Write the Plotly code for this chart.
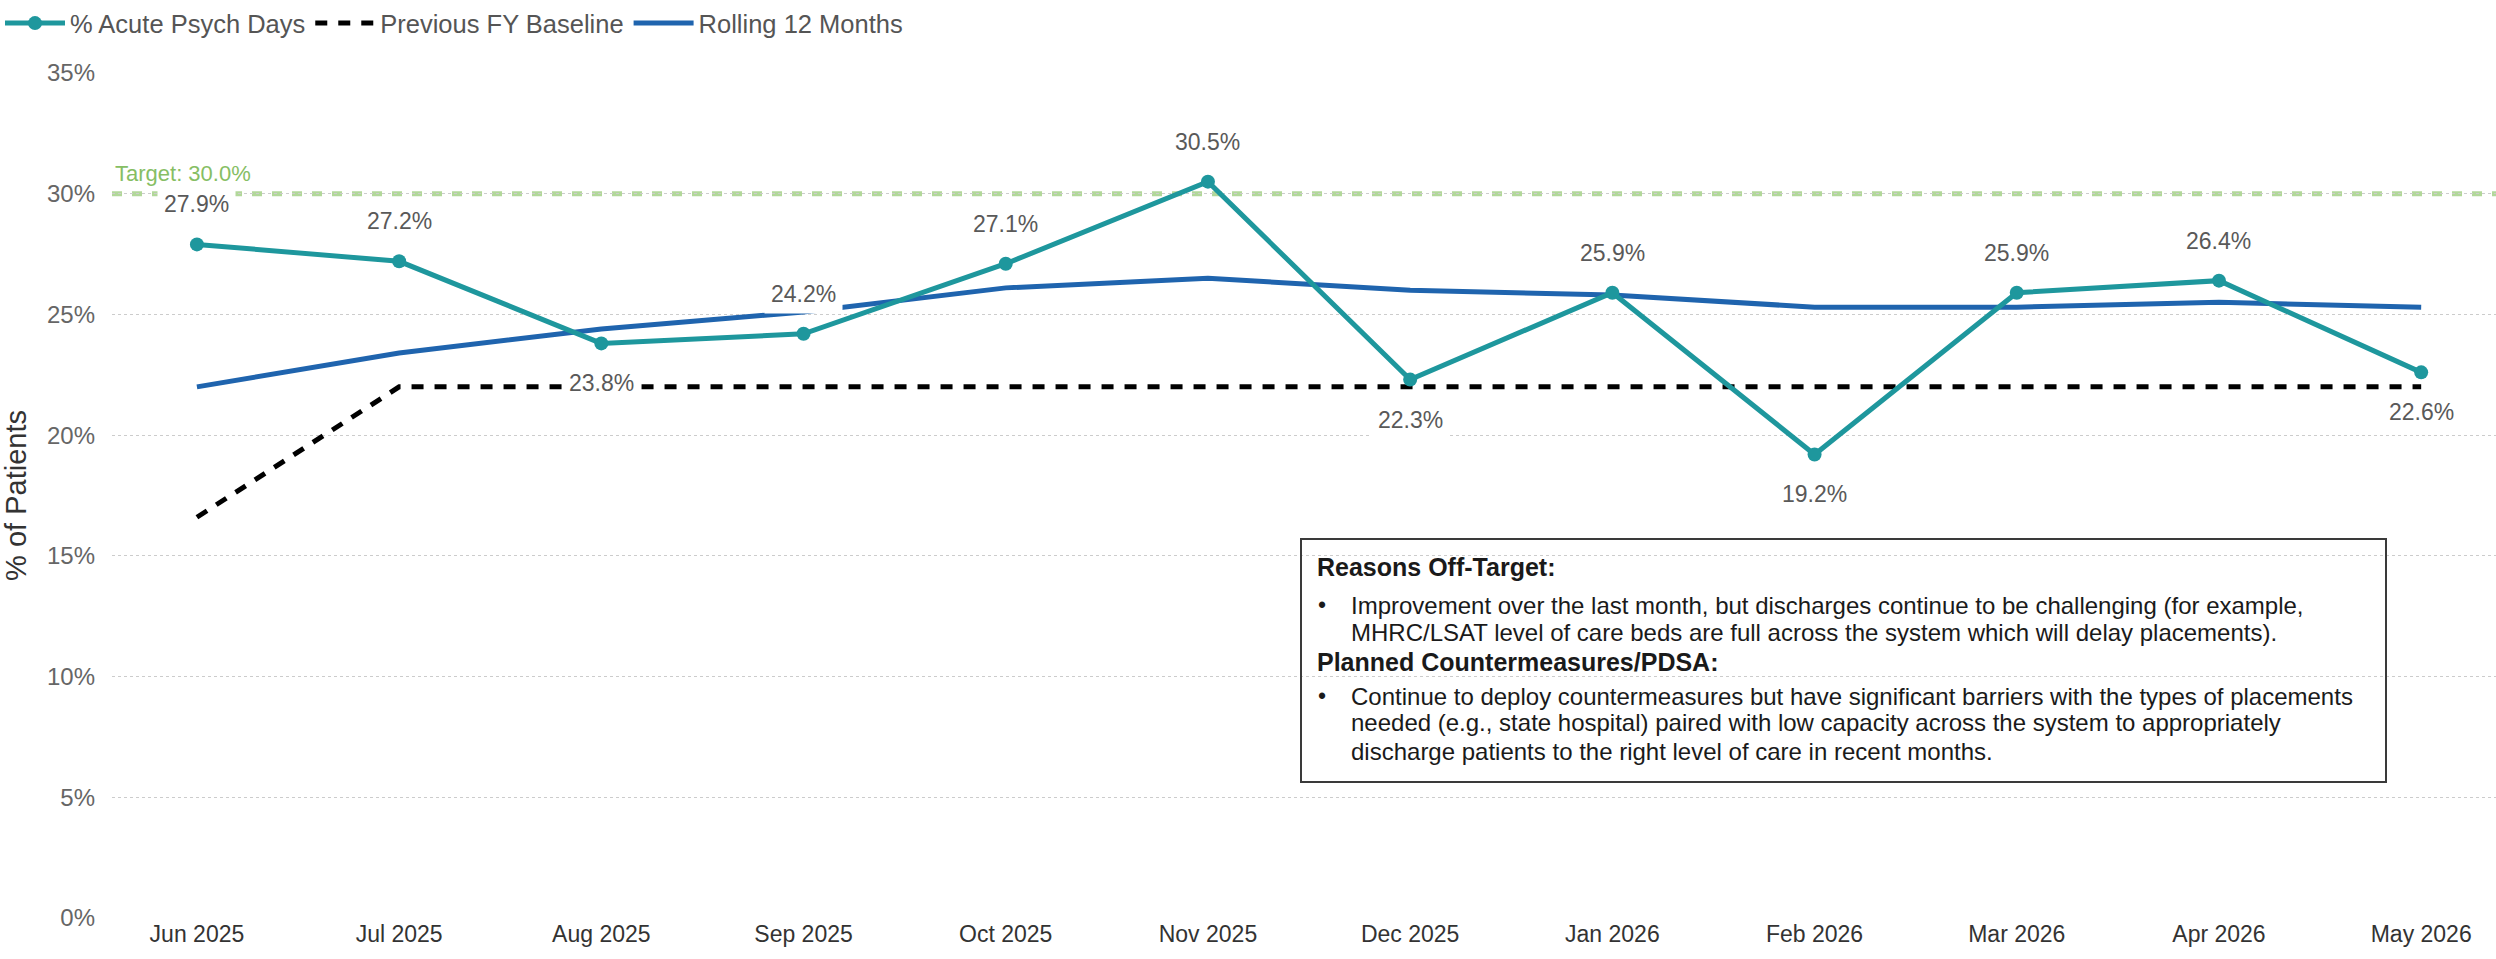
import plotly.graph_objects as go

# ---------------- data ----------------
MONTHS = ["Jun 2025", "Jul 2025", "Aug 2025", "Sep 2025", "Oct 2025", "Nov 2025",
          "Dec 2025", "Jan 2026", "Feb 2026", "Mar 2026", "Apr 2026", "May 2026"]
ACUTE_PSYCH = [27.9, 27.2, 23.8, 24.2, 27.1, 30.5, 22.3, 25.9, 19.2, 25.9, 26.4, 22.6]
PREV_FY_BASELINE = [16.6, 22.0, 22.0, 22.0, 22.0, 22.0, 22.0, 22.0, 22.0, 22.0, 22.0, 22.0]
ROLLING_12 = [22.0, 23.4, 24.4, 25.1, 26.1, 26.5, 26.0, 25.8, 25.3, 25.3, 25.5, 25.3]
LABEL_SIDE = ["above", "above", "below", "above", "above", "above",
              "below", "above", "below", "above", "above", "below"]
TARGET = 30.0
Y_TICKS = [0, 5, 10, 15, 20, 25, 30, 35]
Y_TICK_TEXT = ["0%", "5%", "10%", "15%", "20%", "25%", "30%", "35%"]

NOTE_LINES = [
    ("head", "Reasons Off-Target:"),
    ("bullet", "Improvement over the last month, but discharges continue to be challenging (for example,"),
    ("cont", "MHRC/LSAT level of care beds are full across the system which will delay placements)."),
    ("head", "Planned Countermeasures/PDSA:"),
    ("bullet", "Continue to deploy countermeasures but have significant barriers with the types of placements"),
    ("cont", "needed (e.g., state hospital) paired with low capacity across the system to appropriately"),
    ("cont", "discharge patients to the right level of care in recent months."),
]

# ---------------- style / layout ----------------
W, H = 2496, 959
PL, PR, PT, PB = 112, 2496, 73, 918
FONT = "Liberation Sans, Arial, sans-serif"
TEAL = "#1E979D"
BLUE = "#1F64AE"
GREEN_LINE = "#B2D89A"
GREEN_TEXT = "#86BE64"


def fx(px):
    return (px - PL) / (PR - PL)


def fy(py):
    return (PB - py) / (PB - PT)


fig = go.Figure()

fig.add_trace(go.Scatter(
    x=MONTHS, y=PREV_FY_BASELINE, name="Previous FY Baseline", mode="lines",
    line=dict(color="#000000", width=5, dash="12px,11px"), legendrank=2,
))
fig.add_trace(go.Scatter(
    x=MONTHS, y=ROLLING_12, name="Rolling 12 Months", mode="lines",
    line=dict(color=BLUE, width=5), legendrank=3,
))
fig.add_trace(go.Scatter(
    x=MONTHS, y=ACUTE_PSYCH, name="% Acute Psych Days", mode="lines+markers",
    line=dict(color=TEAL, width=5), marker=dict(size=14, color=TEAL), legendrank=1,
))

# target line
fig.add_shape(type="line", xref="paper", yref="y", x0=0, x1=1, y0=TARGET, y1=TARGET,
              line=dict(color=GREEN_LINE, width=5, dash="10px,10px"), layer="below")
fig.add_annotation(xref="paper", yref="y", x=0, y=TARGET, xanchor="left", yanchor="bottom",
                   xshift=1, yshift=6, text=f"Target: {TARGET:.1f}%", showarrow=False,
                   font=dict(family=FONT, size=22, color=GREEN_TEXT))

# data labels
for m, v, side in zip(MONTHS, ACUTE_PSYCH, LABEL_SIDE):
    fig.add_annotation(x=m, y=v, text=f"{v:.1f}%", showarrow=False,
                       yshift=40 if side == "above" else -40,
                       bgcolor="white", borderpad=6,
                       font=dict(family=FONT, size=23, color="#595959"))

# notes box
fig.add_shape(type="rect", xref="paper", yref="paper",
              x0=fx(1301), x1=fx(2386), y0=fy(782), y1=fy(539),
              line=dict(color="#3a3a3a", width=2), fillcolor="rgba(0,0,0,0)", layer="above")
line_y = [567, 605, 632, 662, 696, 723, 751]
for (kind, txt), py in zip(NOTE_LINES, line_y):
    if kind == "head":
        fig.add_annotation(xref="paper", yref="paper", x=fx(1315), y=fy(py), xanchor="left",
                           yanchor="middle", text=f"<b>{txt}</b>", showarrow=False,
                           font=dict(family=FONT, size=25, color="#1a1a1a"))
    else:
        if kind == "bullet":
            fig.add_annotation(xref="paper", yref="paper", x=fx(1316), y=fy(py), xanchor="left",
                               yanchor="middle", text="•", showarrow=False,
                               font=dict(family=FONT, size=23, color="#1a1a1a"))
        fig.add_annotation(xref="paper", yref="paper", x=fx(1349), y=fy(py), xanchor="left",
                           yanchor="middle", text=txt, showarrow=False,
                           font=dict(family=FONT, size=24, color="#1a1a1a"))

fig.update_layout(
    width=W, height=H,
    margin=dict(l=PL, r=W - PR, t=PT, b=H - PB, autoexpand=False),
    paper_bgcolor="white", plot_bgcolor="white",
    font=dict(family=FONT),
    showlegend=True,
    legend=dict(orientation="h", xref="container", yref="container", x=0, y=1.0,
                xanchor="left", yanchor="top", font=dict(family=FONT, size=25.5, color="#555555"),
                itemwidth=60, tracegroupgap=0, bgcolor="rgba(0,0,0,0)"),
    xaxis=dict(type="category", range=[-0.42, 11.37], showgrid=False, zeroline=False,
               showline=False, ticks="", tickfont=dict(family=FONT, size=23, color="#333333"),
               automargin=False),
    yaxis=dict(range=[0, 35], tickvals=Y_TICKS, ticktext=Y_TICK_TEXT,
               showgrid=True, gridcolor="#CCCCCC", griddash="dot", gridwidth=1,
               zeroline=False, showline=False, ticks="", ticklabelstandoff=16,
               tickfont=dict(family=FONT, size=24, color="#666666"),
               title=dict(text="% of Patients", standoff=14,
                          font=dict(family=FONT, size=29, color="#333333")),
               automargin=False),
)

fig.write_html("out.html", config={"displayModeBar": False},
               post_script="document.body.style.margin='0';")
